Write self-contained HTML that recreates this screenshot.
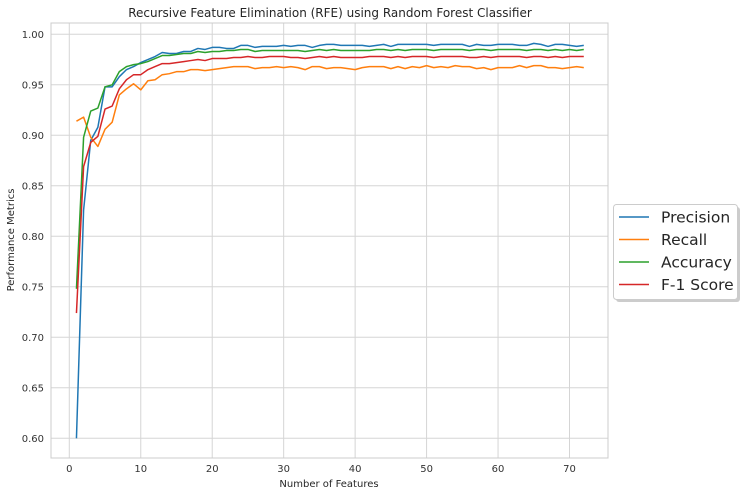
<!DOCTYPE html>
<html><head><meta charset="utf-8"><style>
body{margin:0;background:#fff;}
svg{display:block;font-family:"DejaVu Sans","Liberation Sans",sans-serif;}
</style></head><body>
<svg id="chart" width="745" height="496">
<text x="330" y="17" text-anchor="middle" font-size="12" fill="#262626">Recursive Feature Elimination (RFE) using Random Forest Classifier</text>
<text x="329" y="487" text-anchor="middle" font-size="10" fill="#262626">Number of Features</text>
<text x="14" y="240" text-anchor="middle" font-size="10" fill="#262626" transform="rotate(-90 14 240)">Performance Metrics</text>
<g id="grid"></g>
<g id="series"></g>
<rect x="51" y="23" width="557" height="435" fill="none" stroke="#cccccc" stroke-width="1"/>
<g>
<rect x="616" y="207" width="124" height="95" rx="3" fill="#999" opacity="0.5"/>
<rect x="613.5" y="204.5" width="124" height="95" rx="3" fill="#fff" stroke="#ccc"/>
<g id="legend-items"></g>
</g>
</svg>
<script>
const features = Array.from({length:72},(_,i)=>i+1);
const precision=[0.600,0.826,0.895,0.908,0.948,0.948,0.958,0.965,0.968,0.972,0.975,0.978,0.982,0.981,0.981,0.983,0.983,0.986,0.985,0.987,0.987,0.986,0.986,0.989,0.989,0.987,0.988,0.988,0.988,0.989,0.988,0.989,0.989,0.987,0.989,0.990,0.990,0.989,0.989,0.989,0.989,0.988,0.989,0.990,0.988,0.990,0.990,0.990,0.990,0.990,0.989,0.990,0.990,0.990,0.990,0.988,0.990,0.989,0.989,0.990,0.990,0.990,0.989,0.989,0.991,0.990,0.988,0.990,0.990,0.989,0.988,0.989];
const recall=[0.914,0.918,0.898,0.889,0.906,0.913,0.940,0.946,0.951,0.945,0.954,0.955,0.960,0.961,0.963,0.963,0.965,0.965,0.964,0.965,0.966,0.967,0.968,0.968,0.968,0.966,0.967,0.967,0.968,0.967,0.968,0.967,0.965,0.968,0.968,0.966,0.967,0.967,0.966,0.965,0.967,0.968,0.968,0.968,0.966,0.968,0.966,0.968,0.967,0.969,0.967,0.968,0.967,0.969,0.968,0.968,0.966,0.967,0.965,0.967,0.967,0.967,0.969,0.967,0.969,0.969,0.967,0.967,0.966,0.967,0.968,0.967];
const accuracy=[0.748,0.898,0.924,0.927,0.948,0.950,0.963,0.968,0.970,0.971,0.973,0.976,0.979,0.979,0.980,0.981,0.981,0.983,0.982,0.983,0.983,0.984,0.984,0.985,0.985,0.983,0.984,0.984,0.984,0.984,0.984,0.984,0.983,0.984,0.985,0.984,0.985,0.984,0.984,0.984,0.984,0.984,0.985,0.985,0.984,0.985,0.984,0.985,0.985,0.985,0.984,0.985,0.985,0.985,0.985,0.984,0.985,0.985,0.984,0.985,0.985,0.985,0.985,0.984,0.985,0.985,0.984,0.985,0.984,0.985,0.984,0.985];
const f1=[0.724,0.869,0.893,0.899,0.926,0.929,0.946,0.955,0.960,0.960,0.965,0.968,0.971,0.971,0.972,0.973,0.974,0.975,0.974,0.976,0.976,0.976,0.977,0.977,0.978,0.977,0.977,0.978,0.978,0.978,0.977,0.977,0.976,0.977,0.978,0.977,0.978,0.977,0.977,0.977,0.977,0.978,0.978,0.978,0.977,0.978,0.977,0.978,0.978,0.978,0.977,0.978,0.978,0.978,0.978,0.977,0.977,0.978,0.977,0.978,0.978,0.978,0.978,0.977,0.978,0.978,0.977,0.978,0.977,0.978,0.978,0.978];
const xTicks=[0,10,20,30,40,50,60,70];
const yTicks=[0.60,0.65,0.70,0.75,0.80,0.85,0.90,0.95,1.00];
const seriesNames=["Precision","Recall","Accuracy","F-1 Score"];
const colors=["#1f77b4","#ff7f0e","#2ca02c","#d62728"];
const NS="http://www.w3.org/2000/svg";
const L=51,R=608,T=23,B=458;
const xS=v=>69.3+v*(569.5-69.3)/70;
const yS=v=>438.3-(v-0.60)*(438.3-34.3)/0.40;
const grid=document.getElementById('grid');
function mk(tag,attrs,parent){const e=document.createElementNS(NS,tag);for(const k in attrs)e.setAttribute(k,attrs[k]);parent.appendChild(e);return e;}
xTicks.forEach(t=>{
  const l=mk('line',{x1:xS(t),x2:xS(t),y1:T,y2:B,stroke:'#d5d5d5','stroke-width':1},grid);
  
  
  const tx=mk('text',{x:xS(t),y:B+14,'text-anchor':'middle','font-size':10,fill:'#333'},grid);
  tx.textContent=t;
  
  
});
yTicks.forEach(t=>{
  const l=mk('line',{x1:L,x2:R,y1:yS(t),y2:yS(t),stroke:'#d5d5d5','stroke-width':1},grid);
  
  
  const tx=mk('text',{x:L-7,y:yS(t)+3.5,'text-anchor':'end','font-size':10,fill:'#333'},grid);
  tx.textContent=t.toFixed(2);
  
  
});
const sg=document.getElementById('series');
[precision,recall,accuracy,f1].forEach((d,i)=>{
  const pts=d.map((v,j)=>xS(features[j]).toFixed(2)+','+yS(v).toFixed(2)).join(' ');
  const p=mk('polyline',{points:pts,fill:'none',stroke:colors[i],'stroke-width':1.5,'stroke-linejoin':'round'},sg);
  
  
});
const lg=document.getElementById('legend-items');
seriesNames.forEach((n,i)=>{
  const y=217+i*22.5;
  const l=mk('line',{x1:619,x2:649,y1:y,y2:y,stroke:colors[i],'stroke-width':1.5},lg);
  
  
  const t=mk('text',{x:661,y:y+5.5,'font-size':15.5,fill:'#262626'},lg);
  t.textContent=n;
  
  
});
</script>
</body></html>
